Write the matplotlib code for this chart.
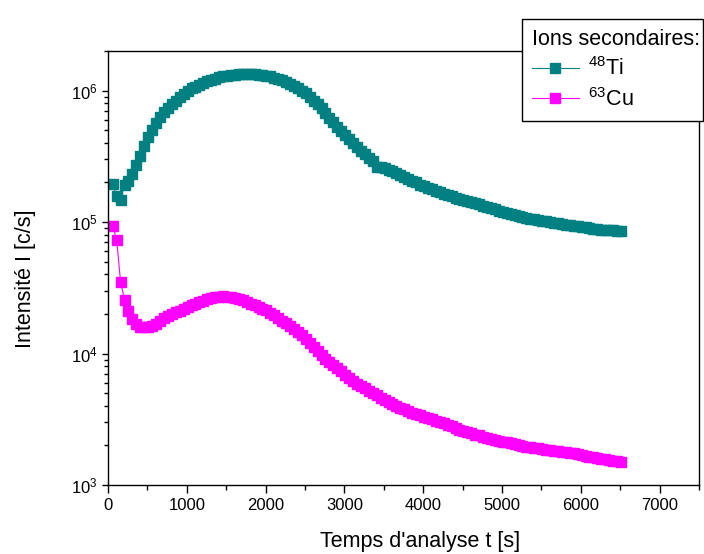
import matplotlib
matplotlib.use('Agg')
import matplotlib.pyplot as plt
import numpy as np
from matplotlib.ticker import LogLocator, MultipleLocator

plt.rcParams['font.family'] = ['Liberation Sans', 'DejaVu Sans']
plt.rcParams['mathtext.fontset'] = 'custom'
plt.rcParams['mathtext.rm'] = 'Liberation Sans'
plt.rcParams['mathtext.it'] = 'Liberation Sans:italic'
plt.rcParams['mathtext.bf'] = 'Liberation Sans:bold'

# sampling times of the depth profile (s)
t_start = 60
t_step = 50

ti48 = [
    1.95e5, 1.58e5, 1.48e5, 1.92e5, 2.05e5, 2.33e5, 2.72e5, 3.2e5, 3.77e5, 4.42e5,
    5.0e5, 5.62e5, 6.3e5, 6.9e5, 7.4e5, 7.9e5, 8.4e5, 8.9e5, 9.4e5, 9.87e5,
    1.04e6, 1.07e6, 1.11e6, 1.15e6, 1.18e6, 1.2e6, 1.23e6, 1.26e6, 1.28e6, 1.29e6,
    1.31e6, 1.32e6, 1.33e6, 1.34e6, 1.34e6, 1.34e6, 1.33e6, 1.32e6, 1.31e6, 1.30e6,
    1.28e6, 1.25e6, 1.23e6, 1.2e6, 1.16e6, 1.12e6, 1.08e6, 1.04e6, 1.0e6, 9.6e5,
    9.0e5, 8.4e5, 7.85e5, 7.35e5, 6.76e5, 6.24e5, 5.75e5, 5.28e5, 4.9e5, 4.57e5,
    4.27e5, 3.98e5, 3.72e5, 3.49e5, 3.27e5, 3.08e5, 2.9e5, 2.63e5, 2.6e5, 2.57e5,
    2.51e5, 2.44e5, 2.36e5, 2.28e5, 2.2e5, 2.13e5, 2.06e5, 2.0e5, 1.93e5, 1.87e5,
    1.82e5, 1.77e5, 1.73e5, 1.68e5, 1.64e5, 1.6e5, 1.57e5, 1.53e5, 1.5e5, 1.47e5,
    1.45e5, 1.42e5, 1.39e5, 1.36e5, 1.33e5, 1.3e5, 1.27e5, 1.25e5, 1.22e5, 1.19e5,
    1.17e5, 1.15e5, 1.13e5, 1.11e5, 1.09e5, 1.08e5, 1.06e5, 1.05e5, 1.03e5, 1.02e5,
    1.01e5, 9.98e4, 9.87e4, 9.75e4, 9.66e4, 9.55e4, 9.46e4, 9.38e4, 9.3e4, 9.2e4,
    9.12e4, 9.0e4, 8.93e4, 8.85e4, 8.77e4, 8.7e4, 8.67e4, 8.63e4, 8.6e4, 8.6e4,
]

cu63 = [
    9.4e4, 7.3e4, 3.5e4, 2.57e4, 2.1e4, 1.82e4, 1.68e4, 1.6e4, 1.58e4, 1.59e4,
    1.62e4, 1.68e4, 1.76e4, 1.85e4, 1.93e4, 2.0e4, 2.06e4, 2.12e4, 2.19e4, 2.25e4,
    2.32e4, 2.39e4, 2.45e4, 2.52e4, 2.58e4, 2.63e4, 2.67e4, 2.7e4, 2.72e4, 2.71e4,
    2.68e4, 2.63e4, 2.59e4, 2.54e4, 2.47e4, 2.4e4, 2.33e4, 2.26e4, 2.2e4, 2.15e4,
    2.04e4, 1.95e4, 1.86e4, 1.78e4, 1.7e4, 1.62e4, 1.55e4, 1.46e4, 1.38e4, 1.29e4,
    1.2e4, 1.12e4, 1.05e4, 9.8e3, 9.1e3, 8.6e3, 8.2e3, 7.76e3, 7.3e3, 6.9e3,
    6.5e3, 6.2e3, 5.9e3, 5.65e3, 5.43e3, 5.22e3, 5.0e3, 4.8e3, 4.62e3, 4.45e3,
    4.29e3, 4.14e3, 4.0e3, 3.88e3, 3.77e3, 3.66e3, 3.55e3, 3.47e3, 3.39e3, 3.31e3,
    3.24e3, 3.16e3, 3.09e3, 3.03e3, 2.95e3, 2.87e3, 2.79e3, 2.72e3, 2.64e3, 2.57e3,
    2.51e3, 2.47e3, 2.42e3, 2.38e3, 2.33e3, 2.29e3, 2.25e3, 2.21e3, 2.18e3, 2.14e3,
    2.11e3, 2.07e3, 2.04e3, 2.01e3, 1.99e3, 1.96e3, 1.94e3, 1.92e3, 1.9e3, 1.87e3,
    1.85e3, 1.84e3, 1.82e3, 1.8e3, 1.79e3, 1.77e3, 1.75e3, 1.74e3, 1.71e3, 1.69e3,
    1.67e3, 1.64e3, 1.62e3, 1.6e3, 1.58e3, 1.57e3, 1.55e3, 1.53e3, 1.51e3, 1.5e3,
]

times = t_start + t_step * np.arange(len(ti48))

W, H = 704, 554
fig = plt.figure(figsize=(W / 100, H / 100), dpi=100)
ax = fig.add_axes([108 / W, 1 - 485 / H, 591 / W, 434 / H])

ax.plot(times, ti48, color='#008080', marker='s', markersize=7.2, linewidth=0.8,
        label='$^{48}$Ti')
ax.plot(times, cu63, color='#ff00ff', marker='s', markersize=7.2, linewidth=0.8,
        label='$^{63}$Cu')

ax.set_yscale('log')
ax.set_xlim(0, 7500)
ax.set_ylim(1e3, 2e6)
ax.xaxis.set_major_locator(MultipleLocator(1000))
ax.xaxis.set_minor_locator(MultipleLocator(500))
ax.yaxis.set_major_locator(LogLocator(base=10, numticks=10))
ax.yaxis.set_minor_locator(LogLocator(base=10, subs=np.arange(2, 10), numticks=20))
ax.set_xticks([0, 1000, 2000, 3000, 4000, 5000, 6000, 7000])

for s in ax.spines.values():
    s.set_linewidth(1.0)
ax.tick_params(axis='x', which='major', direction='out', length=6, width=1.0, labelsize=12)
ax.tick_params(axis='x', which='minor', direction='out', length=3.5, width=1.0)
ax.tick_params(axis='y', which='major', direction='out', length=4, width=1.0, labelsize=12)
ax.tick_params(axis='y', which='minor', direction='out', length=2.7, width=1.0)

ax.set_xlabel("Temps d'analyse t [s]", fontsize=15.5)
ax.set_ylabel('Intensité I [c/s]', fontsize=15.5)
ax.xaxis.set_label_coords(0.528, -0.106)
ax.yaxis.set_label_coords(-0.122, 0.475)

leg = fig.legend(loc='upper left', bbox_to_anchor=(522 / W, 1 - 117 / H, 181 / W, 98 / H),
                 mode='expand', borderaxespad=0, title='Ions secondaires:',
                 fontsize=15.5, title_fontsize=15.5, handlelength=2.2, handletextpad=0.4,
                 labelspacing=0.36, borderpad=0.45, fancybox=False, framealpha=1,
                 alignment='left', markerscale=1.05)
leg.get_frame().set_edgecolor('black')
leg.get_frame().set_linewidth(1.0)

fig.savefig('out.png', dpi=100)
